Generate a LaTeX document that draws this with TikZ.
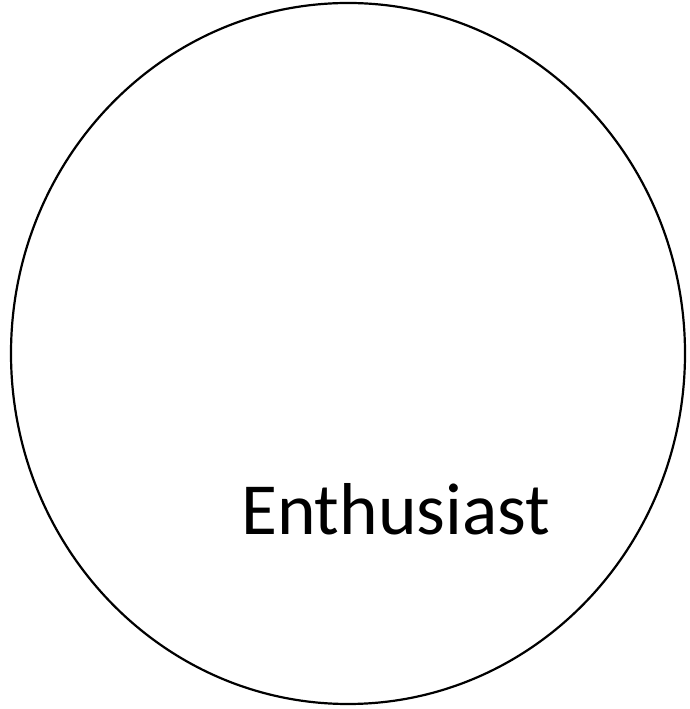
\documentclass[tikz,border=0pt]{standalone}
\usepackage{fontspec}
\setmainfont{Carlito}
\usetikzlibrary{shapes.geometric}
\begin{document}
\begin{tikzpicture}[x=1pt,y=1pt,
  ring/.style={draw=black,line width=2.2pt},
  label/.style={font=\fontsize{73.5}{80}\selectfont,inner sep=0pt,anchor=base west}]
\useasboundingbox (0,0) rectangle (689,709);
\node[ring,ellipse,minimum width=674pt,minimum height=701pt,inner sep=0pt] (c) at (348,355.5) {};
\node[label] (t) at (241,174) {Enthusiast};
\end{tikzpicture}
\end{document}
